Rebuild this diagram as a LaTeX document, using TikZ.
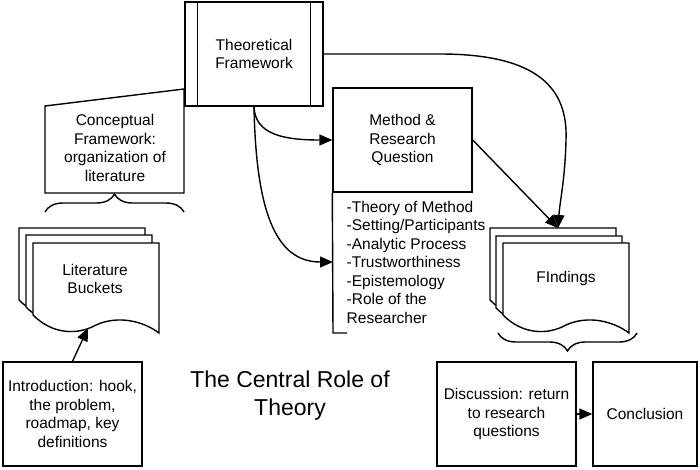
\documentclass[tikz,border=0pt]{standalone}
\usepackage{fontspec}
\setmainfont{Liberation Sans}
\usetikzlibrary{arrows.meta,decorations.pathreplacing}
\begin{document}
\begin{tikzpicture}[x=1pt,y=-1pt,
  line width=1.4pt,
  lbl/.style={font=\fontsize{15.5}{18.5}\selectfont, align=center, inner sep=0pt},
  box/.style={draw, lbl, minimum width=139pt, minimum height=104pt},
  sheet/.style={draw, fill=white},
  arr/.style={-{Triangle[length=13pt,width=11pt]}},
  brc/.style={decorate, decoration={brace, amplitude=18pt}},
  docsheet/.pic={\draw[sheet] (0,0) -- (126,0) -- (126,90) .. controls (110,78) and (85,72) .. (63,82) .. controls (45,92) and (20,92) .. (0,72) -- cycle;}
]
\useasboundingbox (0,0) rectangle (700,469);

% Theoretical framework
\node[box, minimum width=138pt] (tf) at (254,54) {Theoretical\\Framework};
\draw ([xshift=13pt]tf.north west) -- ([xshift=13pt]tf.south west);
\draw ([xshift=-13pt]tf.north east) -- ([xshift=-13pt]tf.south east);

% Conceptual framework (manual input)
\draw (45,106) -- (184,89) -- (184,193) -- (45,193) -- cycle;
\node[lbl] (cf) at (115,148) {Conceptual\\Framework:\\organization of\\literature};
\draw[brc] (45,212) -- (184,212);

% Literature buckets
\pic at (19,228) {docsheet};
\pic at (26,235) {docsheet};
\pic at (33,243) {docsheet};
\node[lbl] (lb) at (95,279) {Literature\\Buckets};
\coordinate (lbbot) at (88,328);

% Findings
\pic at (490,228) {docsheet};
\pic at (496,236) {docsheet};
\pic at (503,243) {docsheet};
\node[lbl] (fd) at (566,278) {FIndings};
\coordinate (fdtop) at (558,228);
\draw[brc] (637,333) -- (498,333);

% Method
\node[box] (mq) at (402.5,140) {Method \&\\Research\\Question};
\node[lbl, align=left, anchor=west] (ls) at (346,262) {-Theory of Method\\-Setting/Participants\\-Analytic Process\\-Trustworthiness\\-Epistemology\\-Role of the\\Researcher};
\coordinate (lsbot) at (333,333);
\coordinate (lsin) at (333,262);
\draw (mq.south west) -- (lsbot) -- ++(14,0);

% Arrows
\draw[arr] (tf.east) -- (440,54) .. controls (540,54) and (568,90) .. (566,140) .. controls (565,180) and (560,200) .. (fdtop);
\draw[arr] (tf.south) .. controls (255,135) and (285,140) .. (mq.west);
\draw[arr] (tf.south) .. controls (256,210) and (275,262) .. (lsin);
\draw[arr] (mq.east) -- (fdtop);

% Introduction
\node[box] (in) at (72.5,414) {Introduction: hook,\\the problem,\\roadmap, key\\definitions};
\draw[arr] (in.north) -- (lbbot);

% Discussion, conclusion
\node[box] (dc) at (506.5,414) {Discussion: return\\to research\\questions};
\node[box, minimum width=104pt] (cc) at (645,414) {Conclusion};
\draw[arr] (dc.east) -- (cc.west);

% Title
\node[font=\fontsize{23}{28}\selectfont, align=center, inner sep=0pt] (tt) at (290,396) {The Central Role of\\Theory};
\end{tikzpicture}
\end{document}
